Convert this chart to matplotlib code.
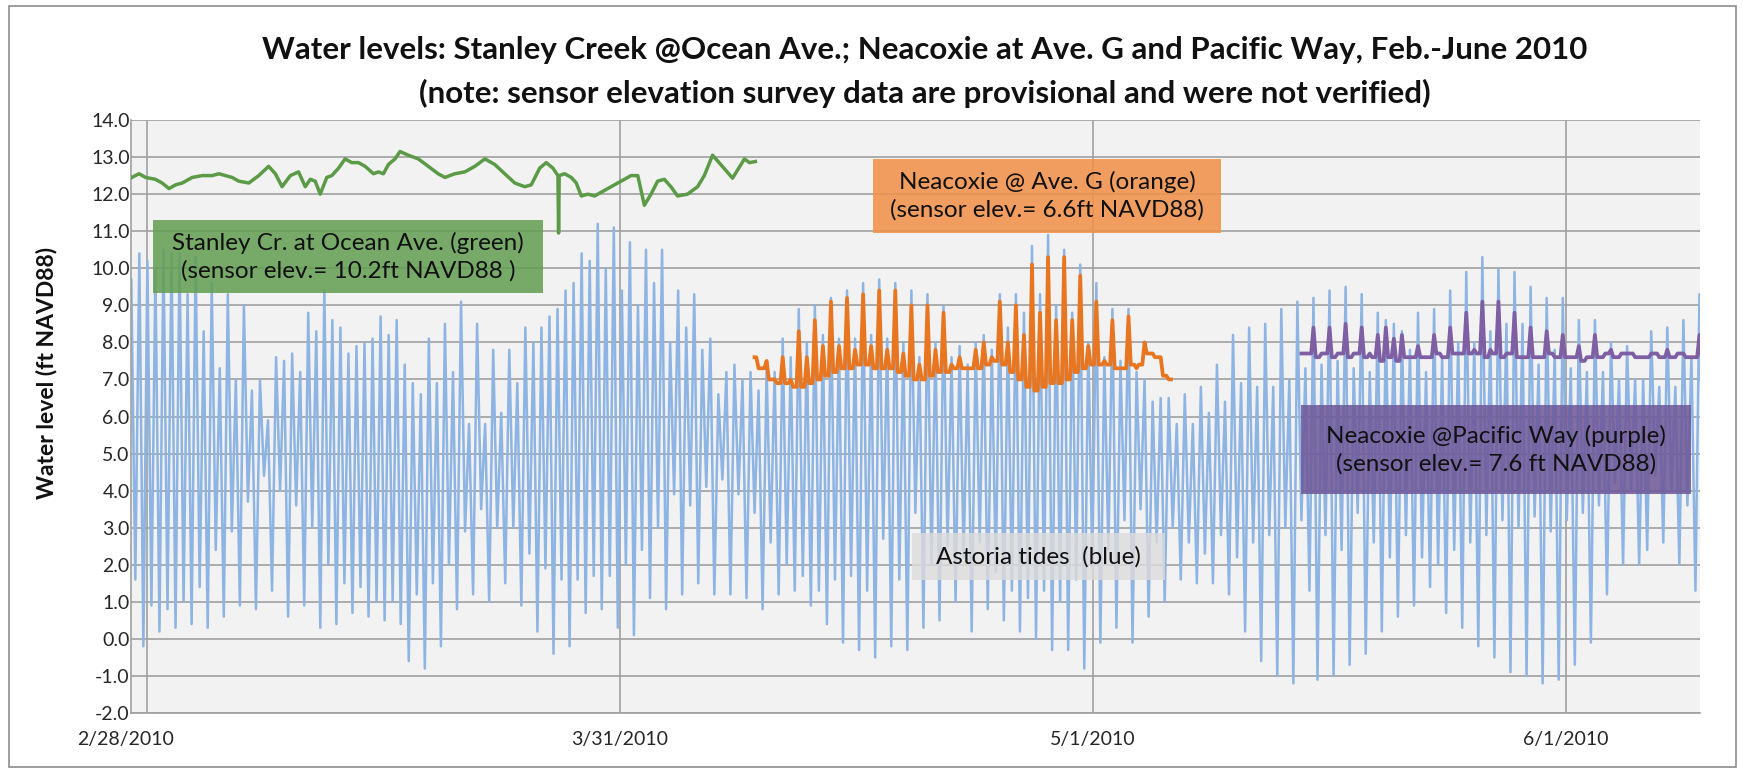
import numpy as np
import matplotlib.pyplot as plt
from matplotlib.patches import Rectangle
from matplotlib.transforms import ScaledTranslation

plt.rcParams['font.family'] = ['Lato', 'DejaVu Sans']

title1 = "Water levels: Stanley Creek @Ocean Ave.; Neacoxie at Ave. G and Pacific Way, Feb.-June 2010"
title2 = "(note: sensor elevation survey data are provisional and were not verified)"

# x axis is in days after 2/28/2010
tick_days = [0, 31, 62, 93]
tick_labels = ['2/28/2010', '3/31/2010', '5/1/2010', '6/1/2010']

# Astoria tides: successive high / low water (ft NAVD88)
tide_start = -1.03   # day of the first high water
tide_step = 0.527    # days between high waters
tide_highs = [
    9.7, 10.4, 10.2, 10.0, 10.5, 10.4, 10.4, 9.3, 10.3, 8.3, 9.6, 7.3, 9.3, 7.0,
    9.0, 6.7, 7.0, 5.9, 7.6, 7.5, 7.7, 7.2, 8.8, 8.3, 9.4, 8.6, 8.4, 7.7,
    7.9, 8.0, 8.1, 8.7, 8.2, 8.6, 7.4, 6.9, 6.6, 8.1, 6.9, 8.5, 7.2, 9.1, 5.8,
    8.5, 5.8, 7.8, 6.1, 7.8, 6.9, 8.4, 8.0, 8.4, 8.7, 8.9, 9.4, 9.6, 10.4,
    10.2, 11.2, 10.0, 11.1, 9.4, 10.7, 9.0, 10.5, 9.6, 10.5, 8.0, 9.4, 8.4, 9.3,
    7.8, 8.1, 6.6, 7.2, 7.4, 7.0, 7.2, 6.7, 7.3, 7.2, 8.1, 7.6, 8.9, 8.0, 9.0, 8.2,
    9.2, 8.1, 9.4, 8.1, 9.6, 8.2, 9.7, 8.1, 9.6, 8.0, 9.4, 7.6, 9.3, 8.0, 9.0,
    7.6, 7.9, 7.4, 8.0, 8.2, 7.8, 9.3, 8.4, 9.3, 8.8, 10.6, 9.3, 10.9, 9.0,
    10.5, 8.8, 10.1, 8.0, 9.6, 7.6, 8.9, 7.5, 8.9, 7.2, 7.0, 6.4, 6.5, 6.5, 5.8,
    6.6, 5.8, 6.8, 6.1, 7.4, 6.4, 8.2, 6.9, 8.4, 6.8, 8.5, 6.8, 8.9, 7.0, 9.1,
    7.3, 9.2, 7.4, 9.4, 7.5, 9.5, 7.3, 9.3, 7.2, 8.8, 8.6, 8.5, 8.3, 7.8, 8.8,
    7.2, 8.9, 7.6, 9.4, 8.0, 9.9, 8.0, 10.3, 8.3, 10.0, 8.5, 9.9, 8.5, 9.5,
    7.4, 9.2, 7.8, 9.2, 7.3, 8.6, 7.2, 8.6, 7.2, 8.0, 7.0, 7.9, 7.0, 7.0, 8.3,
    6.8, 8.4, 6.8, 8.6, 7.6, 9.3]
tide_lows = [
    1.6, -0.2, 0.9, 0.2, 0.8, 0.3, 1.0, 0.4, 1.4, 0.3, 2.4, 0.6, 2.9, 0.9,
    3.7, 0.8, 4.4, 1.3, 4.0, 0.6, 3.6, 0.9, 3.0, 0.3, 2.0, 0.4, 1.5, 0.7,
    1.4, 0.6, 1.0, 0.5, 1.0, 0.4, -0.6, 1.2, -0.8, 1.5, -0.2, 2.0, 0.8, 2.9, 1.2,
    3.5, 1.0, 3.0, 1.5, 3.0, 0.9, 2.3, 0.2, 1.9, -0.4, 1.6, -0.2, 1.6, 0.7,
    1.7, 0.8, 1.7, 0.3, 2.0, 0.1, 2.4, 1.1, 3.0, 0.8, 3.9, 1.2, 3.6, 1.5, 4.1,
    1.2, 4.3, 1.2, 3.9, 1.1, 3.4, 0.8, 2.6, 1.2, 2.0, 1.3, 1.7, 0.9, 1.3, 0.4,
    1.6, -0.1, 1.7, -0.3, 1.3, -0.5, 2.7, -0.2, 1.6, -0.3, 3.4, 0.3, 2.0, 0.5,
    2.5, 1.0, 2.2, 0.2, 2.6, 0.8, 1.8, 0.5, 1.3, 0.2, 1.1, 0.0, 1.3, -0.3, 1.0,
    -0.3, 1.6, -0.8, 2.0, -0.1, 2.4, 0.3, 3.2, -0.1, 3.5, 0.6, 2.6, 1.0, 3.0, 1.6,
    2.6, 1.5, 2.3, 1.5, 2.8, 1.2, 2.2, 0.2, 2.6, -0.6, 2.8, -1.0, 3.0, -1.2, 3.2,
    1.3, -1.1, 2.8, -1.0, 2.4, -0.7, 3.4, -0.4, 2.6, 0.2, 2.2, 0.6, 2.8, 0.9, 2.2,
    1.4, 2.0, 0.7, 2.4, 0.3, 2.6, -0.2, 2.8, -0.5, 3.2, -0.9, 3.0, -1.0, 3.3,
    -1.2, 2.9, -1.1, 3.2, -0.7, 3.4, -0.1, 3.6, 1.2, 4.2, 2.0, 4.0, 2.0, 2.4, 4.4,
    2.6, 4.0, 2.0, 3.6, 1.3, 3.6]

# Stanley Creek @ Ocean Ave (green)
green_days = [-1.0, -0.52, -0.09, 0.55, 0.99, 1.44, 1.87, 2.31, 2.96, 3.62, 4.27,
              4.71, 5.14, 5.58, 6.01, 6.67, 7.32, 7.97, 8.41, 8.85, 9.39, 9.93,
              10.37, 10.7, 11.02, 11.35, 11.78, 12.11, 12.55, 12.98, 13.42, 13.86,
              14.29, 14.84, 15.16, 15.49, 15.82, 16.25, 16.58, 17.12, 17.78, 18.43,
              19.08, 19.52, 20.17, 20.83, 21.48, 22.14, 22.79, 23.44, 24.1, 24.75,
              25.18, 25.73, 26.16, 26.6, 26.93, 26.97, 27.01, 27.37, 27.8, 28.13,
              28.46, 28.89, 29.33, 29.54, 29.98, 30.41, 31.07, 31.72, 32.16, 32.59,
              33.03, 33.46, 33.9, 34.33, 34.77, 35.42, 36.08, 36.52, 37.06, 37.7,
              38.37, 39.15, 39.48, 39.87]
green_vals = [12.45, 12.55, 12.45, 12.4, 12.3, 12.15, 12.25, 12.3, 12.45, 12.5, 12.5,
              12.55, 12.5, 12.45, 12.35, 12.3, 12.5, 12.75, 12.55, 12.2, 12.5, 12.6,
              12.2, 12.4, 12.35, 12.0, 12.45, 12.5, 12.7, 12.95, 12.85, 12.85,
              12.75, 12.55, 12.6, 12.55, 12.8, 12.95, 13.15, 13.05, 12.95, 12.75,
              12.55, 12.45, 12.55, 12.6, 12.75, 12.95, 12.8, 12.55, 12.3, 12.2,
              12.25, 12.7, 12.85, 12.7, 12.5, 10.95, 12.5, 12.55, 12.45, 12.3,
              11.95, 12.0, 11.95, 12.0, 12.1, 12.2, 12.35, 12.5, 12.5, 11.7,
              12.0, 12.35, 12.4, 12.2, 11.95, 12.0, 12.2, 12.5, 13.05, 12.75,
              12.43, 12.95, 12.85, 12.88]

# Neacoxie @ Ave. G (orange): peak at each high water, level between peaks
aveg_first = 78   # index of the first tide high it follows
aveg_peaks = [7.3, 7.5, 7.0, 7.6, 7.0, 8.3, 7.6, 8.6, 7.9, 9.1, 7.9, 9.2, 7.8, 9.3,
              7.9, 9.4, 7.8, 9.4, 7.7, 9.0, 7.4, 9.0, 7.8, 8.8, 7.4, 7.6, 7.3, 7.8,
              8.0, 7.6, 9.1, 8.0, 9.0, 8.2, 10.1, 8.8, 10.3, 8.6, 10.3, 8.6, 9.8,
              7.9, 9.1, 7.5, 8.6, 7.3, 8.7, 7.3, 8.0, 7.7, 7.6, 7.0]
aveg_base = [7.6, 7.3, 7.0, 6.9, 6.9, 6.8, 6.8, 6.9, 7.0, 7.1, 7.2, 7.3, 7.3, 7.4,
             7.4, 7.3, 7.3, 7.3, 7.2, 7.1, 7.0, 7.0, 7.1, 7.2, 7.2, 7.3, 7.3, 7.3,
             7.3, 7.4, 7.5, 7.4, 7.2, 7.0, 6.8, 6.7, 6.8, 6.9, 6.9, 7.0, 7.2, 7.3,
             7.4, 7.4, 7.4, 7.3, 7.3, 7.4, 7.4, 7.7, 7.6, 7.1, 7.0]

# Neacoxie @ Pacific Way (purple)
pac_first = 146
pac_peaks = [7.7, 8.4, 7.7, 8.4, 7.7, 8.5, 7.7, 8.4, 7.7, 8.2, 8.4, 8.1, 8.2, 7.6,
             7.9, 7.6, 8.2, 7.6, 8.4, 7.7, 8.8, 7.8, 9.1, 7.8, 9.1, 7.7, 8.8, 7.6,
             8.4, 7.6, 8.3, 7.6, 8.2, 7.6, 7.9, 7.6, 8.2, 7.6, 7.8, 7.6, 7.7, 7.6,
             7.6, 7.7, 7.6, 7.8, 7.6, 7.7, 7.6, 8.2]
pac_base = [7.7, 7.7, 7.6, 7.7, 7.6, 7.7, 7.6, 7.7, 7.6, 7.6, 7.5, 7.6, 7.5, 7.6,
            7.6, 7.6, 7.6, 7.7, 7.6, 7.7, 7.7, 7.7, 7.7, 7.6, 7.7, 7.6, 7.7, 7.6,
            7.6, 7.6, 7.6, 7.7, 7.6, 7.6, 7.6, 7.5, 7.6, 7.6, 7.7, 7.6, 7.7, 7.7,
            7.6, 7.6, 7.7, 7.6, 7.6, 7.7, 7.6, 7.6, 7.6]

# tide series, highs and lows interleaved
n = len(tide_highs)
t_high = tide_start + tide_step * np.arange(n)
t_low = t_high + tide_step / 2
tide_t = np.column_stack([t_high, t_low]).ravel()
tide_v = np.column_stack([tide_highs, tide_lows]).ravel()


def spiky(first, peaks, base, w=0.15):
    # narrow peak at each high water, flat level in between
    t = [t_high[first] - tide_step / 2]
    v = [base[0]]
    for k, p in enumerate(peaks):
        th = t_high[first + k]
        t += [th - w, th, th + w]
        v += [base[k], p, base[k + 1]]
    return t, v


W, H = 1743, 770
fig = plt.figure(figsize=(W / 100, H / 100), dpi=100)
ax = fig.add_axes([131 / W, 1 - 713 / H, 1569 / W, 593 / H])
ax.set_facecolor('#F2F2F2')

ax.plot(tide_t, tide_v, color='#8DB4E2', lw=1.8, zorder=2)
ax.plot(green_days, green_vals, color='#5B9A46', lw=2.5, zorder=3)
ot, ov = spiky(aveg_first, aveg_peaks, aveg_base)
ax.plot(ot, ov, color='#E8751F', lw=2.7, zorder=4)
pt, pv = spiky(pac_first, pac_peaks, pac_base)
ax.plot(pt, pv, color='#7E5FA3', lw=2.7, zorder=4)

ax.set_xlim(-1.05, 101.77)
ax.set_ylim(-2, 14)
ax.set_yticks(np.arange(-2, 15, 1))
ax.set_yticklabels([f'{v:.1f}' for v in np.arange(-2, 15, 1)])
ax.set_xticks(tick_days)
ax.set_xticklabels(tick_labels)
ax.grid(True, color='#A0A0A0', lw=1.2, zorder=1)
ax.set_axisbelow(True)
for s in ['top', 'right']:
    ax.spines[s].set_visible(False)
for s in ['left', 'bottom']:
    ax.spines[s].set_color('#A0A0A0')
    ax.spines[s].set_linewidth(1.2)
ax.tick_params(length=0, labelsize=14, colors='#262626')
ax.tick_params(axis='y', pad=1)
ax.tick_params(axis='x', pad=13)
# first date label sits a little left of its gridline, as in the original
first = ax.get_xticklabels()[0]
first.set_transform(first.get_transform() + ScaledTranslation(-0.21, 0, fig.dpi_scale_trans))

fig.text(47 / W, 1 - 373 / H, 'Water level (ft NAVD88)', rotation=90,
         ha='center', va='center', fontsize=16.5, fontweight='bold', color='#111111')
fig.text(925 / W, 1 - 50 / H, title1, ha='center', va='center',
         fontsize=22.5, fontweight='bold', color='#111111')
fig.text(925 / W, 1 - 93 / H, title2, ha='center', va='center',
         fontsize=22.5, fontweight='bold', color='#111111')

# annotation boxes (pixel boxes on the figure)
boxes = [
    (153, 220, 543, 293, '#629D51', 0.85,
     'Stanley Cr. at Ocean Ave. (green)\n(sensor elev.= 10.2ft NAVD88 )'),
    (873, 159, 1221, 233, '#F0914B', 0.88,
     'Neacoxie @ Ave. G (orange)\n(sensor elev.= 6.6ft NAVD88)'),
    (1301, 405, 1691, 494, '#6C5798', 0.85,
     'Neacoxie @Pacific Way (purple)\n(sensor elev.= 7.6 ft NAVD88)'),
    (912, 533, 1165, 580, '#DCDCDC', 0.8, 'Astoria tides  (blue)'),
]
for x0, y0, x1, y1, fc, a, txt in boxes:
    fig.add_artist(Rectangle((x0 / W, 1 - y1 / H), (x1 - x0) / W, (y1 - y0) / H,
                             transform=fig.transFigure, facecolor=fc, alpha=a,
                             edgecolor='none', zorder=5))
    fig.text((x0 + x1) / 2 / W, 1 - (y0 + y1) / 2 / H, txt, ha='center', va='center',
             fontsize=17.5, linespacing=1.35, color='#111111', zorder=6)

fig.add_artist(Rectangle((9 / W, 3 / H), 1727 / W, 761 / H, transform=fig.transFigure,
                         fill=False, edgecolor='#8C8C8C', lw=1.2))

fig.savefig('out.png', dpi=100)
